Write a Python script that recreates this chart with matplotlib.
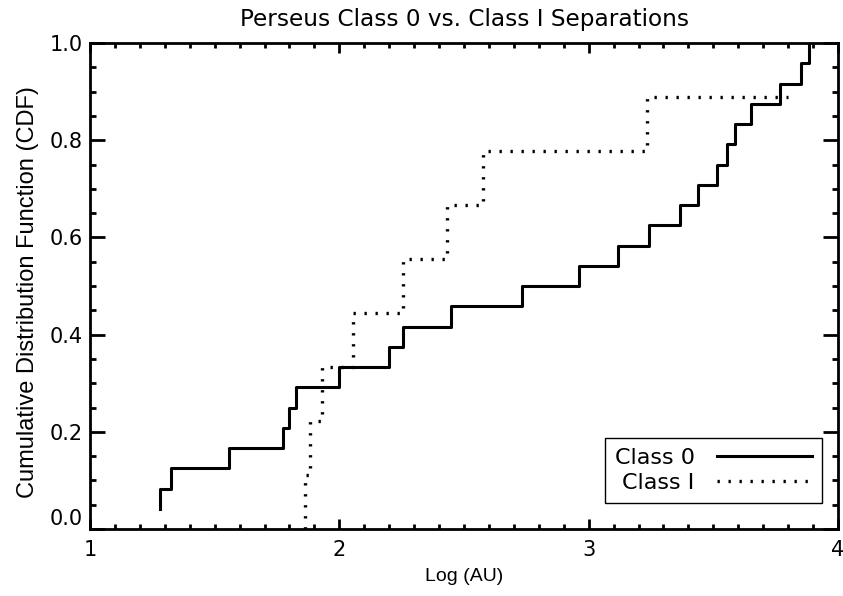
import numpy as np
import matplotlib
matplotlib.use("Agg")
import matplotlib.pyplot as plt
from matplotlib.ticker import MultipleLocator

# sorted log separations (AU)
class0_logsep = [1.281, 1.281, 1.325, 1.558, 1.774, 1.798, 1.826, 1.999,
                 2.199, 2.256, 2.448, 2.733, 2.961, 3.118, 3.242, 3.367,
                 3.439, 3.515, 3.555, 3.587, 3.651, 3.768, 3.852, 3.884]
class0_cdf = [(i + 1) / 24 for i in range(24)]

class1_logsep = [1.862, 1.882, 1.931, 2.055, 2.256, 2.432, 2.576, 3.234, 3.800]
class1_cdf = [i / 9 for i in range(9)]

xticks = [1, 2, 3, 4]
yticks = [0.0, 0.2, 0.4, 0.6, 0.8, 1.0]

fig = plt.figure(figsize=(8.43, 5.96), dpi=100)
ax = fig.add_axes([90/843, 1-529/596, 748/843, 486/596])

ax.step(class0_logsep, class0_cdf, where='post', color='black', lw=2.2,
        label='Class 0')
ax.step(class1_logsep, class1_cdf, where='pre', color='black', lw=2.4,
        linestyle=(0, (0.7, 2.6)), label='Class I')

ax.set_xlim(1, 4)
ax.set_ylim(0, 1)
ax.set_xticks(xticks)
ax.set_xticklabels([str(t) for t in xticks])
ax.set_yticks(yticks)
ax.set_yticklabels([f"{t:.1f}" for t in yticks])
ax.xaxis.set_minor_locator(MultipleLocator(0.1))
ax.yaxis.set_minor_locator(MultipleLocator(0.05))

ax.tick_params(which='both', direction='in', top=True, right=True,
               labelsize=15, width=2)
ax.tick_params(axis='x', which='both', pad=8)
ax.tick_params(axis='y', which='both', pad=5)
ax.tick_params(axis='x', which='major', length=7.2)
ax.tick_params(axis='x', which='minor', length=3.6)
ax.tick_params(axis='y', which='major', length=10.5)
ax.tick_params(axis='y', which='minor', length=4.5)
for s in ax.spines.values():
    s.set_linewidth(2)

ax.get_yticklabels()[0].set_va('bottom')

ax.set_title("Perseus Class 0 vs. Class I Separations", fontsize=16.7, pad=12)
ax.set_xlabel("Log (AU)", fontsize=14, family='Liberation Sans', labelpad=6)
ax.set_ylabel("Cumulative Distribution Function (CDF)", fontsize=17,
              family='Liberation Sans', labelpad=8, y=0.487)

leg = ax.legend(loc='lower right', bbox_to_anchor=(0.979, 0.0535),
                borderaxespad=0, fancybox=False, edgecolor='black',
                markerfirst=False, fontsize=16, handlelength=4.3,
                handletextpad=1.0, framealpha=1, borderpad=0.45,
                labelspacing=0.22)
leg.get_frame().set_linewidth(1)

fig.savefig("out.png", dpi=100)
